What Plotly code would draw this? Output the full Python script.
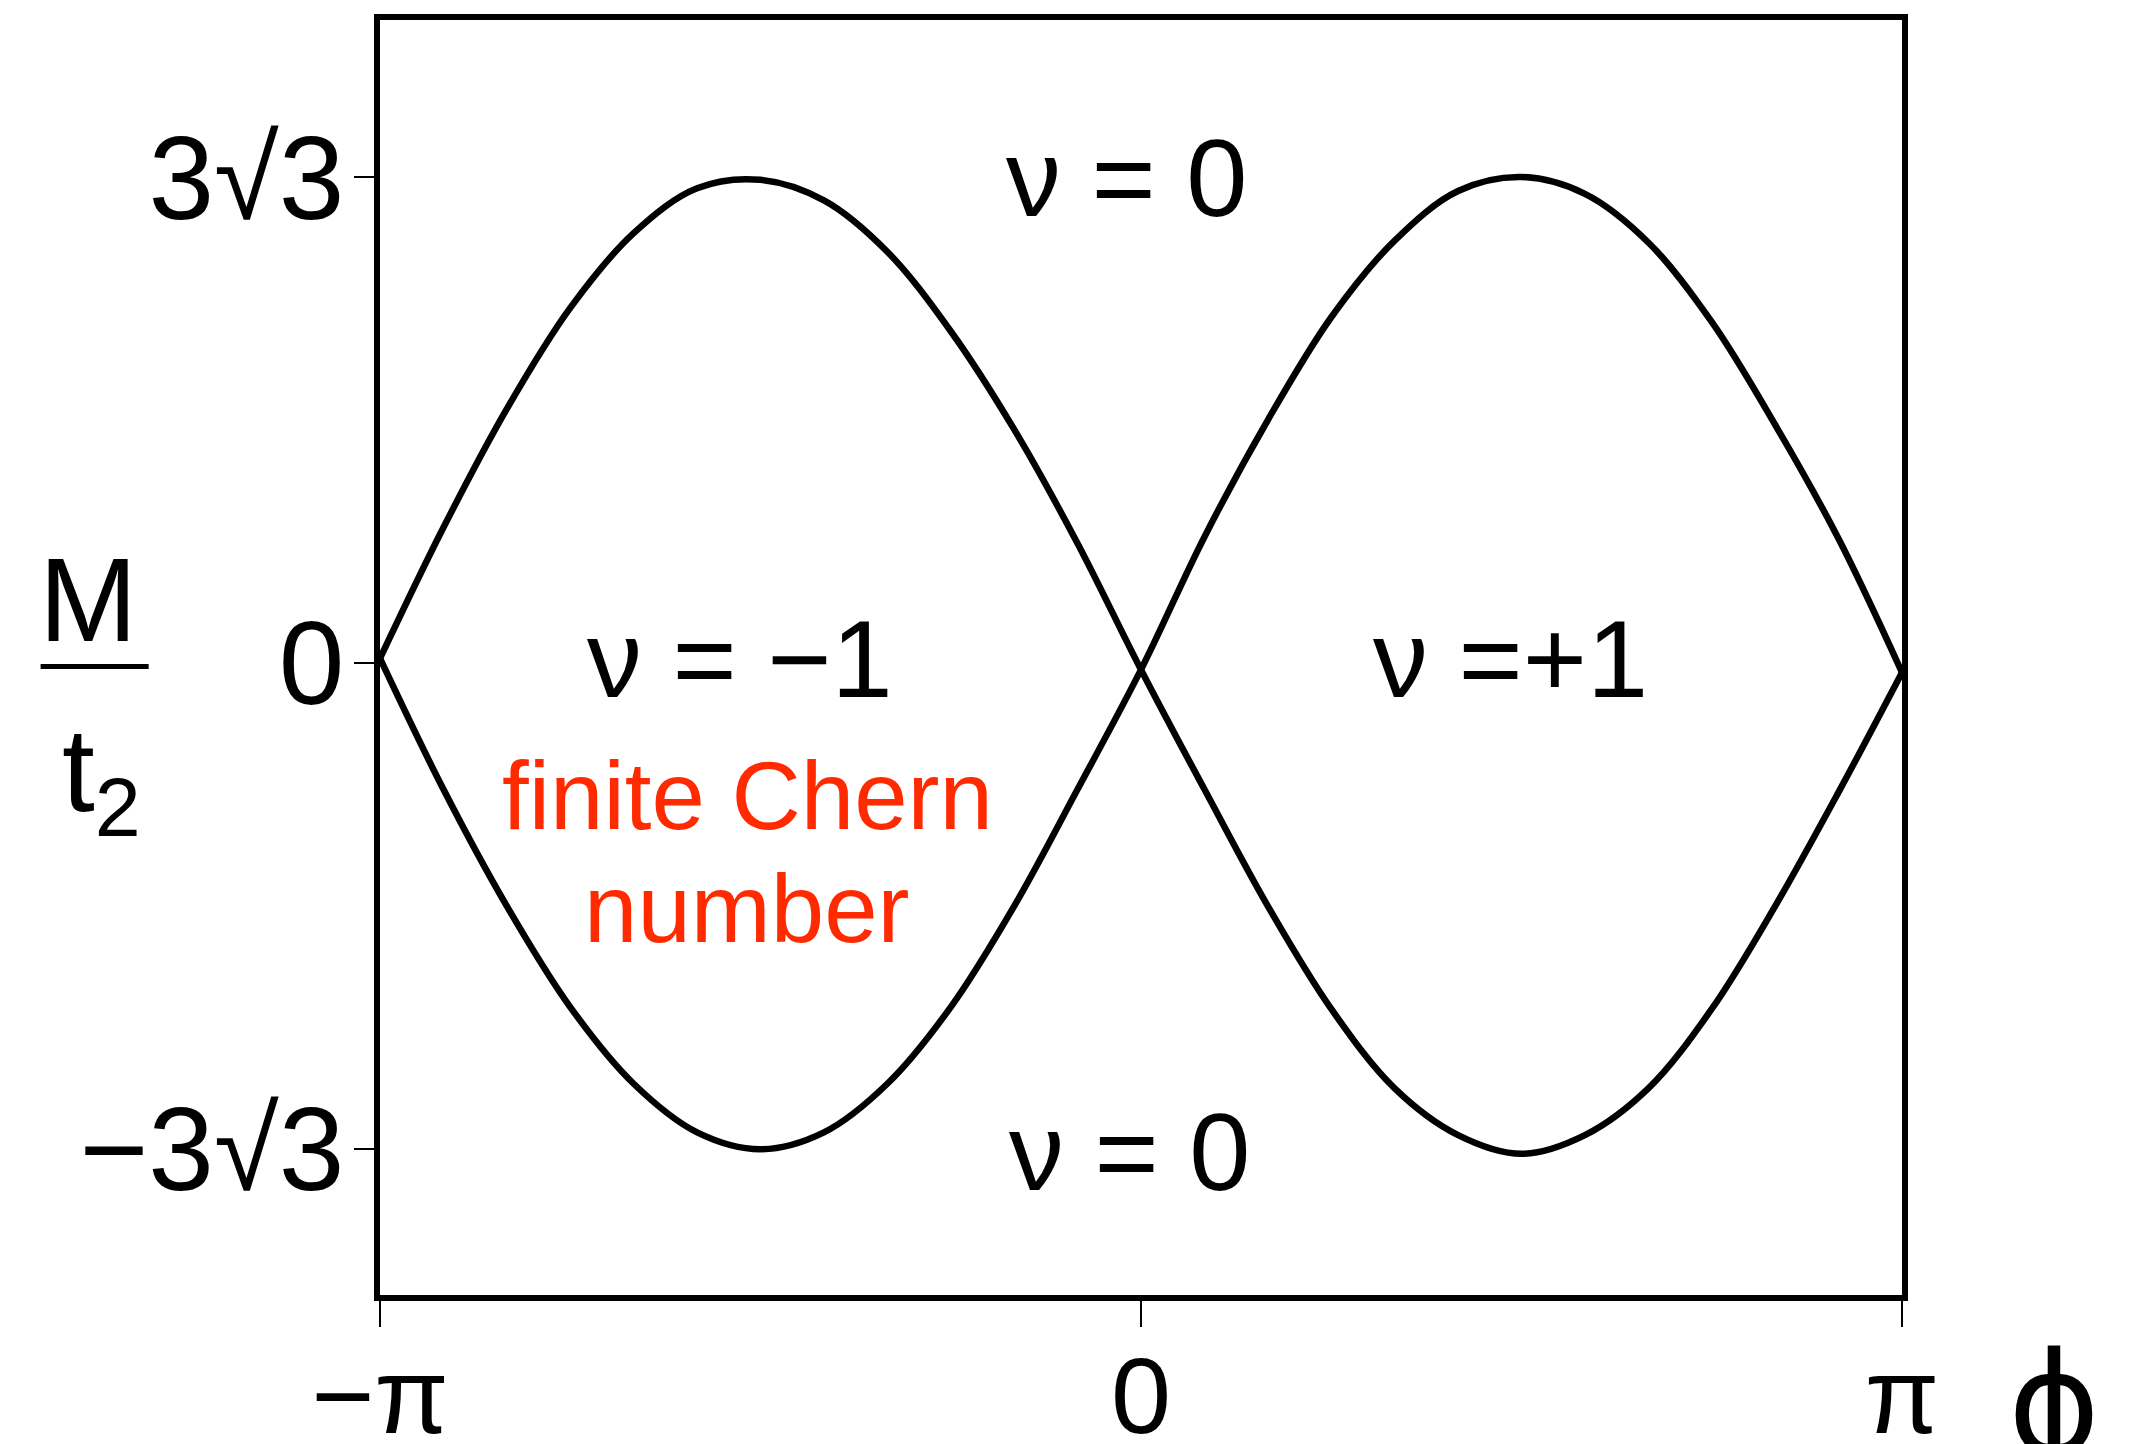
import math
import plotly.graph_objects as go

PI = math.pi
ROOT27 = 3 * math.sqrt(3)

# Flux phase phi (in units of pi) at which the phase boundaries were sampled
phi_over_pi = [-12, -11, -10, -9, -8, -7, -6, -5, -4, -3, -2, -1, 0,
               1, 2, 3, 4, 5, 6, 7, 8, 9, 10, 11, 12]
phi_over_pi = [k / 12 for k in phi_over_pi]

# Boundary dipping below zero for phi < 0 and rising for phi > 0 (M / t2)
boundary_a = [0.05, -1.35, -2.6, -3.68, -4.5, -5.02, -5.2, -5.02, -4.5, -3.68, -2.6, -1.35, -0.07,
              1.35, 2.6, 3.7, 4.52, 5.05, 5.2, 5.02, 4.5, 3.65, 2.55, 1.33, -0.1]

# Mirror boundary: rising for phi < 0, dipping for phi > 0 (M / t2)
boundary_b = [0.05, 1.45, 2.72, 3.8, 4.6, 5.08, 5.17, 4.95, 4.4, 3.55, 2.5, 1.28, -0.07,
              -1.35, -2.6, -3.7, -4.55, -5.05, -5.25, -5.05, -4.55, -3.7, -2.6, -1.38, -0.1]

x_tick_vals = [-PI, 0, PI]
x_tick_text = ["\u2212\u03c0", "0", "\u03c0"]
y_tick_vals = [ROOT27, 0, -ROOT27]
y_tick_text = ["3\u221a3", "0", "\u22123\u221a3"]

# Chern-number labels for each region: (text, phi, M/t2)
region_labels = [
    ("\u03bd = 0", -0.056, 5.2),
    ("\u03bd = \u22121", -1.655, 0.05),
    ("\u03bd =+1", 1.525, 0.05),
    ("\u03bd = 0", -0.045, -5.23),
]

phi = [p * PI for p in phi_over_pi]

SANS = "Liberation Sans, Arial, DejaVu Sans, sans-serif"

fig = go.Figure()
for ys in (boundary_a, boundary_b):
    fig.add_trace(go.Scatter(
        x=phi, y=ys, mode="lines",
        line=dict(color="black", width=6.5, shape="spline", smoothing=1.0),
        showlegend=False, hoverinfo="skip",
    ))

for text, xv, yv in region_labels:
    fig.add_annotation(x=xv, y=yv, xref="x", yref="y", text=text,
                       showarrow=False, xanchor="center", yanchor="middle",
                       font=dict(family=SANS, size=110, color="black"))

# Red remark inside the nu = -1 region
fig.add_annotation(x=-1.626, y=-1.42, xref="x", yref="y", text="finite Chern",
                   showarrow=False, xanchor="center", yanchor="middle",
                   font=dict(family=SANS, size=96, color="#ff2a00"))
fig.add_annotation(x=-1.626, y=-2.62, xref="x", yref="y", text="number",
                   showarrow=False, xanchor="center", yanchor="middle",
                   font=dict(family=SANS, size=96, color="#ff2a00"))

# Y-axis title drawn as a fraction M / t2
fig.add_annotation(x=-0.192, y=0.545, xref="paper", yref="paper", text="M",
                   showarrow=False, xanchor="center", yanchor="middle",
                   font=dict(family=SANS, size=118, color="black"))
fig.add_shape(type="line", xref="paper", yref="paper",
              x0=-0.223, x1=-0.152, y0=0.493, y1=0.493,
              line=dict(color="black", width=5))
fig.add_annotation(x=-0.183, y=0.405, xref="paper", yref="paper",
                   text="t<sub>2</sub>",
                   showarrow=False, xanchor="center", yanchor="middle",
                   font=dict(family=SANS, size=118, color="black"))

# X-axis title
fig.add_annotation(x=1.1, y=-0.086, xref="paper", yref="paper", text="\u03d5",
                   showarrow=False, xanchor="center", yanchor="middle",
                   font=dict(family="DejaVu Sans, sans-serif", size=140, color="black"))

fig.update_xaxes(
    range=[-PI, PI], tickmode="array", tickvals=x_tick_vals, ticktext=x_tick_text,
    ticks="outside", ticklen=26, tickwidth=2, tickcolor="black",
    showline=True, linecolor="black", linewidth=6, mirror=True,
    showgrid=False, zeroline=False, automargin=False,
    tickfont=dict(family=SANS, size=108, color="black"),
    ticklabelstandoff=-24,
)
fig.update_yaxes(
    range=[-6.76, 6.88], tickmode="array", tickvals=y_tick_vals, ticktext=y_tick_text,
    ticks="outside", ticklen=20, tickwidth=2, tickcolor="black",
    showline=True, linecolor="black", linewidth=6, mirror=True,
    showgrid=False, zeroline=False, automargin=False,
    tickfont=dict(family=SANS, size=118, color="black"),
    ticklabelstandoff=-14,
)

fig.update_layout(
    width=2130, height=1444,
    margin=dict(l=380, r=228, t=20, b=149),
    paper_bgcolor="white", plot_bgcolor="white",
    showlegend=False,
)

fig.write_html("out.html")
